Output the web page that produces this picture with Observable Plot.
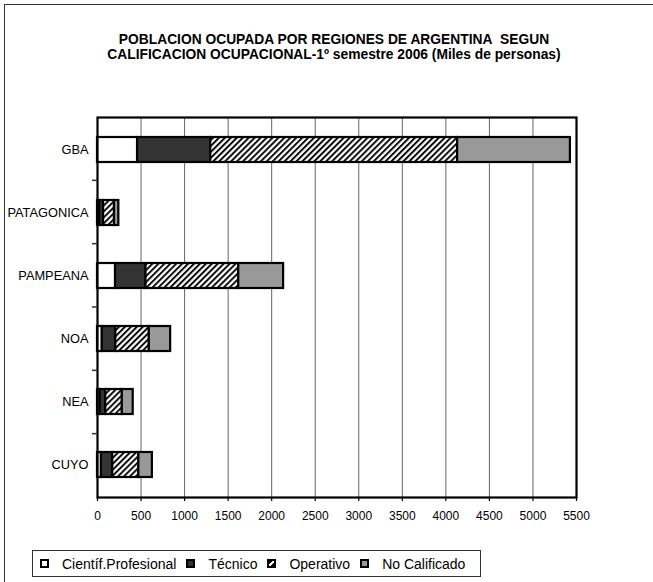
<!DOCTYPE html>
<html>
<head>
<meta charset="utf-8">
<script src="https://cdn.jsdelivr.net/npm/d3@7"></script>
<script src="https://cdn.jsdelivr.net/npm/@observablehq/plot@0.6"></script>
<style>
  html, body { margin: 0; padding: 0; background: #fff; }
  #wrap { position: relative; width: 653px; height: 582px; overflow: hidden; font-family: "Liberation Sans", Arial, sans-serif; }
  #border { position: absolute; left: 4px; top: 4px; width: 700px; height: 700px; border-left: 1.5px solid #333; border-top: 1.5px solid #333; }
  #title { position: absolute; left: 0; top: 32px; width: 668px; text-align: center; font-weight: bold; font-size: 13.8px; line-height: 15px; color: #000; white-space: nowrap; }
  #chart { position: absolute; left: 0; top: 100px; }
  #legend { position: absolute; left: 32px; top: 550px; width: 449px; height: 27px; border: 1px solid #333; box-sizing: border-box; display: flex; align-items: center; font-size: 14px; color: #000; white-space: nowrap; }
  .item { display: flex; align-items: center; margin-left: 7px; margin-right: 3px; }
  .sw { width: 5px; height: 5px; border: 2px solid #000; margin-right: 13px; }
</style>
</head>
<body>
<div id="wrap">
  <div id="border"></div>
  <div id="title">POBLACION OCUPADA POR REGIONES DE ARGENTINA&nbsp; SEGUN<br>CALIFICACION OCUPACIONAL-1º semestre 2006 (Miles de personas)</div>
  <div id="chart"></div>
  <div id="legend"></div>
</div>
<script>
const regions = ["GBA", "PATAGONICA", "PAMPEANA", "NOA", "NEA", "CUYO"];
const series = ["Científ.Profesional", "Técnico", "Operativo", "No Calificado"];
const cientifProfesional = [460, 25, 207, 55, 30, 45];
const tecnico = [840, 45, 350, 155, 65, 130];
const operativo = [2835, 125, 1065, 385, 190, 300];
const noCalificado = [1295, 50, 515, 245, 125, 155];
const xTicks = [0, 500, 1000, 1500, 2000, 2500, 3000, 3500, 4000, 4500, 5000, 5500];
const fills = ["#ffffff", "#333333", "url(#hatch)", "#999999"];

const valuesBySeries = [cientifProfesional, tecnico, operativo, noCalificado];
const data = [];
regions.forEach((r, i) => {
  series.forEach((s, j) => data.push({region: r, serie: s, value: valuesBySeries[j][i]}));
});

const plot = Plot.plot({
  width: 653,
  height: 427,
  marginTop: 17,
  marginBottom: 30,
  marginLeft: 97,
  marginRight: 77,
  style: {fontFamily: "Liberation Sans, Arial, sans-serif", fontSize: "12px", color: "#000", background: "transparent"},
  x: {domain: [0, 5500], ticks: xTicks, label: null},
  y: {domain: regions, label: null, paddingInner: 0.6, paddingOuter: 0.3},
  color: {type: "ordinal", domain: series, range: fills},
  marks: [
    Plot.ruleX(xTicks.slice(1, -1), {stroke: "#666", strokeWidth: 1}),
    Plot.barX(data, Plot.stackX({y: "region", x: "value", fill: "serie", order: series, stroke: "#000", strokeWidth: 2.2})),
    Plot.frame({stroke: "#000", strokeWidth: 2.2}),
    Plot.axisX({ticks: xTicks, tickSize: 4, tickPadding: 10, tickFormat: d => String(d), label: null, strokeWidth: 1.2}),
    Plot.axisY({tickSize: 0, tickPadding: 9, label: null, fontSize: 12.8})
  ]
});

const svg = d3.select(plot);
const defs = svg.insert("defs", ":first-child");
const pat = defs.append("pattern").attr("id", "hatch").attr("patternUnits", "userSpaceOnUse")
  .attr("width", 4.2).attr("height", 4.2).attr("patternTransform", "rotate(45)");
pat.append("rect").attr("width", 4.2).attr("height", 4.2).attr("fill", "#fff");
pat.append("line").attr("x1", 1).attr("y1", 0).attr("x2", 1).attr("y2", 4.2).attr("stroke", "#000").attr("stroke-width", 1.9);

// small outward ticks at the band boundaries, from the plot's own y scale range
const ys = plot.scale("y");
const [r0, r1] = ys.range;
const n = regions.length;
const g = svg.append("g");
for (let k = 1; k < n; k++) {
  const yy = r0 + k * (r1 - r0) / n;
  g.append("line").attr("x1", 92).attr("x2", 97).attr("y1", yy).attr("y2", yy)
    .attr("stroke", "#333").attr("stroke-width", 1.5);
}

document.getElementById("chart").appendChild(plot);

const legend = document.getElementById("legend");
const swFills = ["#ffffff", "#333333", "linear-gradient(135deg, #000 0 38%, #fff 38% 62%, #000 62% 100%)", "#999999"];
series.forEach((s, j) => {
  const item = document.createElement("div");
  item.className = "item";
  const sw = document.createElement("div");
  sw.className = "sw";
  sw.style.background = swFills[j];
  const t = document.createElement("span");
  t.textContent = s;
  item.appendChild(sw);
  item.appendChild(t);
  legend.appendChild(item);
});
</script>
</body>
</html>
